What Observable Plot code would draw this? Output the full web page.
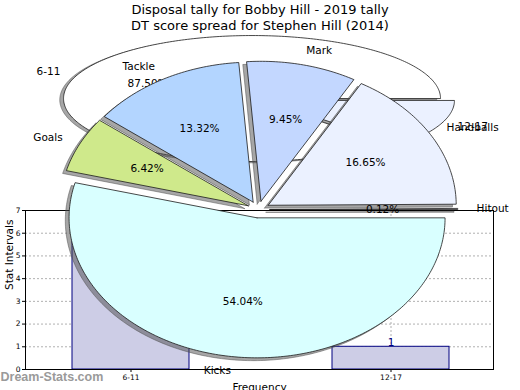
<!DOCTYPE html>
<html><head><meta charset="utf-8">
<script src="https://cdn.jsdelivr.net/npm/d3@7"></script>
<script src="https://cdn.jsdelivr.net/npm/@observablehq/plot@0.6"></script>
<style>
html,body{margin:0;padding:0;background:#fff;}
#wrap{position:relative;width:520px;height:390px;overflow:hidden;font-family:"DejaVu Sans",sans-serif;}
#wrap svg{position:absolute;left:0;top:0;}
.title{position:absolute;left:0;width:520px;text-align:center;font-size:13px;line-height:16px;color:#000;white-space:nowrap;}
</style></head><body><div id="wrap"></div>
<script>
// ---- data ----
const titleLines = ["Disposal tally for Bobby Hill - 2019 tally", "DT score spread for Stephen Hill (2014)"];
const sliceLabels = ["Hitout", "Handballs", "Mark", "Tackle", "Goals", "Kicks"];
const sliceValues = [0.12, 16.65, 9.45, 13.32, 6.42, 54.04];
const sliceColors = ["#f2f2ff", "#ebf1ff", "#c3d7ff", "#b3d5ff", "#cfe98b", "#d9ffff"];
const binLabels = ["6-11", "12-17"];
const binCounts = [7, 1];
const binColors = ["#ffffff", "#ebf1ff"];
const yTicks = [0, 1, 2, 3, 4, 5, 6, 7];

// ---- pie geometry (matplotlib-like: ccw from 3 o'clock, radius 1) ----
function pieGeometry(labels, values, explode) {
  const total = d3.sum(values);
  const wedges = [], texts = [];
  let a = 0;
  labels.forEach((label, i) => {
    const a1 = a, a2 = a + values[i] / total * 2 * Math.PI;
    a = a2;
    const m = (a1 + a2) / 2;
    const cx = explode * Math.cos(m), cy = explode * Math.sin(m);
    const n = Math.max(2, Math.ceil((a2 - a1) / (Math.PI / 180)));
    wedges.push({label, x: cx, y: cy});
    for (let k = 0; k <= n; k++) {
      const t = a1 + (a2 - a1) * k / n;
      wedges.push({label, x: cx + Math.cos(t), y: cy + Math.sin(t)});
    }
    wedges.push({label, x: cx, y: cy});
    texts.push({
      label,
      pct: (values[i] / total * 100).toFixed(2) + "%",
      lx: cx + 1.1 * Math.cos(m), ly: cy + 1.1 * Math.sin(m),
      px: cx + 0.6 * Math.cos(m), py: cy + 0.6 * Math.sin(m)
    });
  });
  return {wedges, texts};
}

function piePlot(labels, values, colors, explode, xr, yr) {
  const {wedges, texts} = pieGeometry(labels, values, explode);
  return Plot.plot({
    width: 520, height: 390, margin: 0,
    x: {domain: [-1, 1], range: xr, axis: null},
    y: {domain: [-1, 1], range: yr, axis: null},
    color: {domain: labels, range: colors},
    style: {background: "transparent", overflow: "visible", fontFamily: "DejaVu Sans, sans-serif"},
    marks: [
      Plot.line(wedges, {x: d => d.x - 0.02, y: d => d.y - 0.02, z: "label", fill: "#4d4d4d", fillOpacity: 0.5, stroke: "#4d4d4d", strokeOpacity: 0.5, strokeWidth: 1}),
      Plot.line(wedges, {x: "x", y: "y", z: "label", fill: "label", stroke: "#1a1a1a", strokeWidth: 0.8}),
      Plot.text(texts.filter(d => d.lx < 0), {x: "lx", y: "ly", text: "label", textAnchor: "end", fontSize: 10.5, fill: "#000"}),
      Plot.text(texts.filter(d => d.lx >= 0), {x: "lx", y: "ly", text: "label", textAnchor: "start", fontSize: 10.5, fill: "#000"}),
      Plot.text(texts, {x: "px", y: "py", text: "pct", fontSize: 10.5, fill: "#000"})
    ]
  });
}

const bars = binLabels.map((label, i) => ({label, count: binCounts[i]}));

const barPlot = Plot.plot({
  width: 520, height: 390,
  marginLeft: 25, marginRight: 27, marginTop: 210, marginBottom: 21,
  x: {domain: binLabels, range: [0, 520], paddingInner: 0.55, paddingOuter: 0.275, label: null, tickSize: 3, tickPadding: 2},
  y: {domain: [0, 7], ticks: yTicks, tickFormat: "d", tickSize: 3, tickPadding: 2, label: null},
  style: {fontFamily: "DejaVu Sans, sans-serif", fontSize: "7.5px", background: "transparent", overflow: "visible"},
  marks: [
    Plot.ruleY(yTicks.filter(v => v > 0 && v < 7), {stroke: "#b0b0b0", strokeDasharray: "2,2"}),
    Plot.ruleX(binLabels, {x: d => d, stroke: "#b0b0b0", strokeDasharray: "2,2"}),
    Plot.barY(bars, {x: "label", y: "count", fill: "#cdcde6", stroke: "#000080", strokeWidth: 1}),
    Plot.text(bars, {x: "label", y: "count", text: d => String(d.count), dy: -1, lineAnchor: "bottom", fill: "#000080", fontSize: 10.5}),
    Plot.frame({stroke: "#000"}),
    Plot.text(["Stat Intervals"], {text: d => d, frameAnchor: "left", rotate: -90, dx: -16, fontSize: 10.5, fill: "#000"}),
    Plot.text(["Frequency"], {text: d => d, frameAnchor: "bottom", dy: 21, fontSize: 10.5, fill: "#000"}),
    Plot.text(["Dream-Stats.com"], {text: d => d, frameAnchor: "bottom-left", dx: -25, dy: 11, textAnchor: "start", fontSize: 12.5, fontWeight: "bold", fontFamily: "Liberation Sans, Arial, sans-serif", fill: "#9a9a9a"})
  ]
});

const wrap = document.getElementById("wrap");
wrap.appendChild(barPlot);
wrap.appendChild(piePlot(binLabels, binCounts, binColors, 0.04, [70, 447], [162, 36]));
wrap.appendChild(piePlot(sliceLabels, sliceValues, sliceColors, 0.06, [70, 446], [349, 69]));
titleLines.forEach((t, i) => {
  const div = document.createElement("div");
  div.className = "title";
  div.style.top = (2 + i * 16) + "px";
  div.textContent = t;
  wrap.appendChild(div);
});
</script></body></html>
